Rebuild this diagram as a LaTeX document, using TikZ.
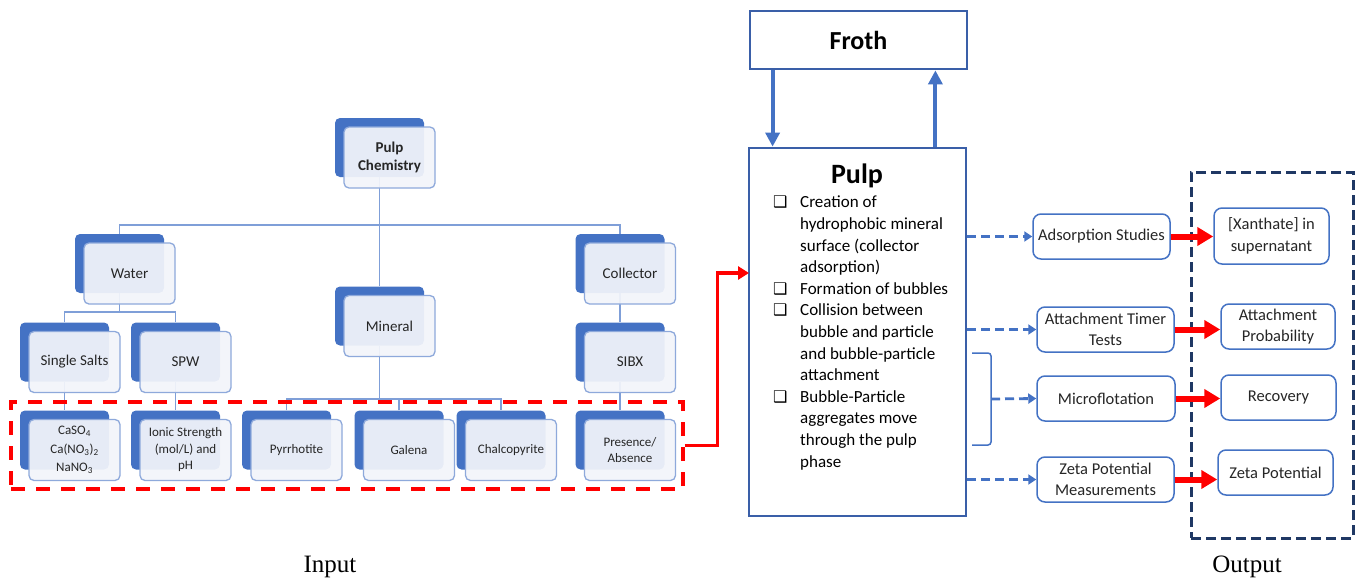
\documentclass[tikz,border=0pt]{standalone}
\usepackage{fontspec}
\setmainfont{Carlito}
\newfontfamily\dejavu{DejaVu Sans}
\newfontfamily\inoutfont{Liberation Serif}
\usetikzlibrary{arrows.meta,backgrounds,calc}
\definecolor{bblue}{HTML}{4472C4}
\definecolor{ffill}{HTML}{F3F5FA}
\definecolor{fdraw}{HTML}{8EA9DB}
\definecolor{tline}{HTML}{7F9FD8}
\definecolor{tgray}{HTML}{262626}
\definecolor{pdraw}{HTML}{3A5FA8}
\definecolor{navy}{HTML}{1F3864}
\definecolor{rred}{HTML}{FF0000}
\tikzset{
  backbox/.style={rectangle, rounded corners=5pt, fill=bblue, draw=none, minimum width=89pt, minimum height=59pt, inner sep=0pt},
  frontbox/.style={rectangle, rounded corners=5pt, draw=fdraw, line width=1.3pt, fill=ffill, fill opacity=0.93, text opacity=1, minimum width=91pt, minimum height=61pt, align=center, inner sep=2pt, text=tgray},
  treeline/.style={draw=tline, line width=1.2pt},
  bigbox/.style={rectangle, draw=pdraw, line width=2.8pt, inner sep=0pt},
  bluearrow/.style={draw=bblue, line width=4pt, -{Triangle[length=14pt,width=14pt]}},
  dasharrow/.style={draw=bblue, line width=2.8pt, dash pattern=on 9pt off 5pt, -{Triangle[length=8pt,width=10pt]}},
  rbox/.style={rectangle, rounded corners=8pt, draw=bblue, line width=1.5pt, fill=white, align=center, inner sep=2pt, font=\fontsize{16.5}{21}\selectfont, text=tgray},
  redarrow/.style={draw=rred, line width=6pt, -{Triangle[length=16pt,width=18pt]}},
  inoutlabel/.style={font=\inoutfont\fontsize{25}{28}\selectfont, inner sep=0pt}
}
\newcommand\tbox[5]{%
  \node[backbox] (#1b) at (#2-10,#3-10) {};
  \node[frontbox,font=#4] (#1) at (#2,#3) {#5};
}
\newcommand\bq{\makebox[27pt][l]{\dejavu\fontsize{16}{16}\selectfont ❑}}
\newcommand\ind{\hspace*{27pt}}
\begin{document}
\begin{tikzpicture}[x=1pt,y=-1pt]
\useasboundingbox (0,0) rectangle (1363,584);

% ---- tree ----
\tbox{pc}{389.5}{157.5}{\bfseries\fontsize{15}{18}\selectfont}{Pulp\\Chemistry}
\tbox{wat}{129.5}{273.5}{\fontsize{15}{18}\selectfont}{Water}
\tbox{min}{389.5}{326}{\fontsize{15}{18}\selectfont}{Mineral}
\tbox{col}{630}{273.5}{\fontsize{15}{18}\selectfont}{Collector}
\tbox{ss}{74.5}{362}{\fontsize{15}{18}\selectfont}{Single Salts}
\tbox{spw}{185.5}{362}{\fontsize{15}{18}\selectfont}{SPW}
\tbox{sib}{630}{362}{\fontsize{15}{18}\selectfont}{SIBX}
\tbox{ca}{74.5}{450}{\fontsize{13}{18.5}\selectfont}{CaSO\textsubscript{4}\\Ca(NO\textsubscript{3})\textsubscript{2}\\NaNO\textsubscript{3}}
\tbox{ion}{185.5}{450}{\fontsize{13}{16.5}\selectfont}{Ionic Strength\\(mol/L) and\\pH}
\tbox{pyr}{296.5}{450}{\fontsize{13}{16}\selectfont}{Pyrrhotite}
\tbox{gal}{409}{450}{\fontsize{13}{16}\selectfont}{Galena}
\tbox{cha}{511}{450}{\fontsize{13}{16}\selectfont}{Chalcopyrite}
\tbox{pre}{630}{450}{\fontsize{13}{16}\selectfont}{Presence/\\Absence}

\coordinate (j1) at (379.5,225);
\coordinate (j2) at (119.5,312);
\coordinate (j3) at (379.5,399);
\begin{scope}[on background layer]
  \fill[white] (0,0) rectangle (1363,584);
  \draw[treeline] (pcb.south) -- (minb.north);
  \draw[treeline] (watb.north) |- (j1) -| (colb.north);
  \draw[treeline] (watb.south) -- (j2);
  \draw[treeline] (ssb.north) |- (j2) -| (spwb.north);
  \draw[treeline] (ssb.south) -- (cab.north);
  \draw[treeline] (spwb.south) -- (ionb.north);
  \draw[treeline] (minb.south) -- (j3);
  \draw[treeline] (pyrb.north) |- (j3) -| (chab.north);
  \draw[treeline] (galb.north) -- (galb.north |- j3);
  \draw[treeline] (colb.south) -- (sibb.north);
  \draw[treeline] (sibb.south) -- (preb.north);
\end{scope}

% ---- input red dashed box ----
\node[draw=rred, line width=3.5pt, dash pattern=on 14pt off 11pt, minimum width=672pt, minimum height=87pt, inner sep=0pt] (inbox) at (347,445.5) {};

% ---- froth / pulp ----
\node[bigbox, minimum width=217pt, minimum height=58pt, font=\bfseries\fontsize{26}{30}\selectfont] (froth) at (858.5,40) {Froth};
\node[bigbox, minimum width=217pt, minimum height=368pt] (pulp) at (857.5,332) {};
\node[font=\bfseries\fontsize{28}{32}\selectfont, inner sep=0pt] (pulptitle) at (857,176) {Pulp};
\node[anchor=north west, align=left, inner sep=0pt, font=\fontsize{17}{21.6}\selectfont] (bul) at (773,196) {\bq Creation of\\
\ind hydrophobic mineral\\
\ind surface (collector\\
\ind adsorption)\\
\bq Formation of bubbles\\
\bq Collision between\\
\ind bubble and particle\\
\ind and bubble-particle\\
\ind attachment\\
\bq Bubble-Particle\\
\ind aggregates move\\
\ind through the pulp\\
\ind phase};

\draw[bluearrow] ([xshift=24pt]froth.south west) -- ([xshift=25pt]pulp.north west);
\draw[bluearrow] ([xshift=-32pt]pulp.north east) -- ([xshift=-33pt]froth.south east);

% red connector into pulp
\coordinate (pin) at (749,273);
\draw[draw=rred, line width=3.2pt, -{Triangle[length=11pt,width=13pt]}] (inbox.east) -- ++(33,0) |- (pin);

% ---- studies ----
\node[rbox, minimum width=137pt, minimum height=45pt] (ads) at (1101.5,236.5) {Adsorption Studies};
\node[rbox, minimum width=137pt, minimum height=45pt] (att) at (1105.5,329.5) {Attachment Timer\\Tests};
\node[rbox, minimum width=138pt, minimum height=45pt] (mic) at (1106,398.5) {Microflotation};
\node[rbox, minimum width=137pt, minimum height=45pt] (zet) at (1105.5,479.5) {Zeta Potential\\Measurements};

% bracket
\coordinate (bt) at (972,353);
\coordinate (bb) at (972,445);
\coordinate (bm) at (991,399);
\draw[draw=bblue, line width=1.5pt, rounded corners=3pt] (bt) -- (991,353) -- (991,445) -- (bb);

\draw[dasharrow] (pulp.east |- ads.west) -- (ads.west);
\draw[dasharrow] (pulp.east |- att.west) -- (att.west);
\draw[dasharrow] (bm) -- (mic.west);
\draw[dasharrow] (pulp.east |- zet.west) -- (zet.west);

% ---- output ----
\node[draw=navy, line width=3pt, dash pattern=on 10pt off 5pt, minimum width=162pt, minimum height=366pt, inner sep=0pt] (outbox) at (1272,355) {};
\node[rbox, minimum width=115pt, minimum height=56pt, font=\fontsize{16.5}{22}\selectfont] (xan) at (1271.5,236) {[Xanthate] in\\supernatant};
\node[rbox, minimum width=114pt, minimum height=45pt] (apr) at (1278,326.5) {Attachment\\Probability};
\node[rbox, minimum width=115pt, minimum height=45pt] (rec) at (1278.5,397.5) {Recovery};
\node[rbox, minimum width=115pt, minimum height=45pt] (zpo) at (1275.5,472.5) {Zeta Potential};

\draw[redarrow] (ads.east) -- (ads.east -| xan.west);
\draw[redarrow] (att.east) -- (att.east -| apr.west);
\draw[redarrow] (mic.east) -- (mic.east -| rec.west);
\draw[redarrow] (zet.east) -- (zet.east -| zpo.west);

% labels
\node[inoutlabel] (inlab) at (330,567) {Input};
\node[inoutlabel] (outlab) at (1247,567) {Output};
\end{tikzpicture}
\end{document}
